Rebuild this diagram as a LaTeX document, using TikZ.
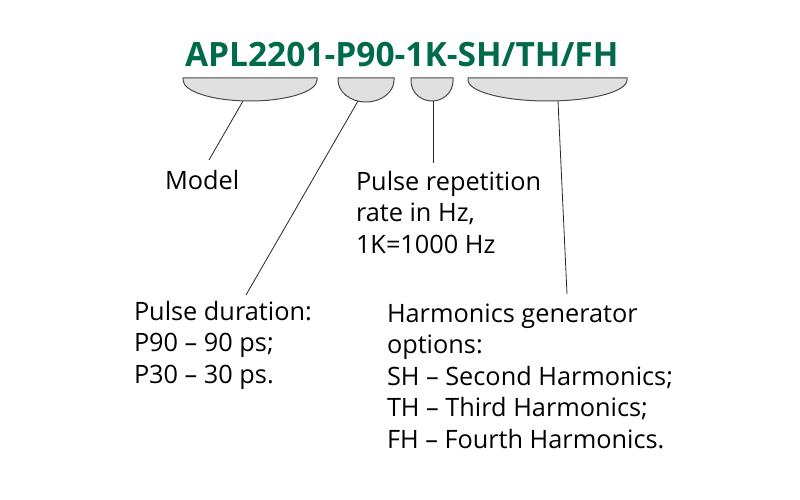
\documentclass[tikz,border=0pt]{standalone}
\usepackage{fontspec}
\setmainfont{Open Sans}
\definecolor{titlegreen}{HTML}{006B4A}
\definecolor{brfill}{HTML}{E0E0E0}
\definecolor{brline}{HTML}{4A4A4A}
\tikzset{
  bracketshape/.style={fill=brfill, draw=brline, line width=1pt},
  leader/.style={draw=black!85, line width=0.8pt},
  label/.style={inner sep=0pt, outer sep=0pt, align=left, anchor=base west, font=\fontsize{25.3}{31.5}\selectfont},
  titletext/.style={inner sep=0pt, outer sep=0pt, anchor=base west, text=titlegreen, font=\fontsize{33.5}{36}\selectfont\bfseries}
}
\begin{document}
\begin{tikzpicture}[x=1pt,y=-1pt]
\useasboundingbox (0,0) rectangle (800,500);
\node[titletext] (title) at (185,67) {APL2201-P90-1K-SH/TH/FH};
% brackets
\draw[bracketshape] (183,78) -- (317,78) -- (317,80) arc[start angle=0,end angle=180,x radius=67,y radius=21] -- cycle;
\draw[bracketshape] (338,78) -- (394,78) -- (394,80) arc[start angle=0,end angle=180,x radius=28,y radius=22] -- cycle;
\draw[bracketshape] (411,78) -- (453,78) -- (453,81) arc[start angle=0,end angle=180,x radius=21,y radius=20] -- cycle;
\draw[bracketshape] (468,78) -- (627,78) -- (627,80) arc[start angle=0,end angle=180,x radius=79.5,y radius=21] -- cycle;
\coordinate (b1) at (243,101);
\coordinate (b2) at (358,101);
\coordinate (b3) at (433,101);
\coordinate (b4) at (558,101);
% labels (anchored at the baseline of the last line)
\node[label] (model) at (165,189) {Model};
\node[label] (rate) at (356,253) {Pulse repetition\\rate in Hz,\\1K=1000 Hz};
\node[label] (dur) at (134,383) {Pulse duration:\\P90 – 90 ps;\\P30 – 30 ps.};
\node[label] (harm) at (387,448) {Harmonics generator\\options:\\SH – Second Harmonics;\\TH – Third Harmonics;\\FH – Fourth Harmonics.};
\coordinate (e1) at (209,160);
\coordinate (e2) at (246,295);
\coordinate (e3) at (433,163);
\coordinate (e4) at (567,294);
\draw[leader] (b1) -- (e1);
\draw[leader] (b2) -- (e2);
\draw[leader] (b3) -- (e3);
\draw[leader] (b4) -- (e4);
\end{tikzpicture}
\end{document}
